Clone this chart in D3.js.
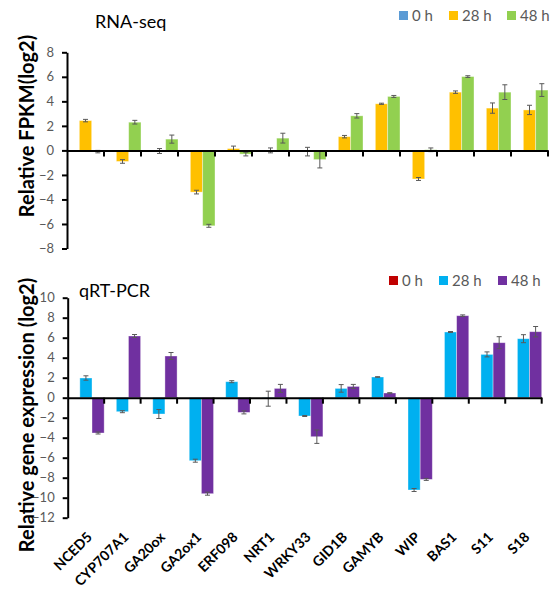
<!DOCTYPE html>
<html><head><meta charset="utf-8">
<script src="https://cdn.jsdelivr.net/npm/d3@7"></script>
<style>body{margin:0;background:#fff;} svg{display:block;font-family:Lato,"Open Sans",sans-serif;}</style>
</head><body>
<svg id="c" width="558" height="590"></svg>
<script>
const genes = ["NCED5","CYP707A1","GA20ox","GA2ox1","ERF098","NRT1","WRKY33","GID1B","GAMYB","WIP","BAS1","S11","S18"];
const seriesNames = ["0 h","28 h","48 h"];

// RNA-seq
const rna0h   = [0,0,0,0,0,0,0,0,0,0,0,0,0];
const rna28h  = [2.43,-0.9,-0.05,-3.4,0.15,0,-0.1,1.12,3.8,-2.33,4.75,3.45,3.3];
const rna48h  = [-0.1,2.3,0.92,-6.15,-0.3,1.0,-0.75,2.82,4.4,0.05,6.02,4.75,4.92];
const rna28hErr = [0.1,0.15,0.2,0.15,0.2,0.2,0.35,0.1,0.05,0.12,0.1,0.42,0.38];
const rna48hErr = [0.1,0.15,0.33,0.12,0.15,0.4,0.68,0.18,0.08,0.15,0.07,0.6,0.52];
const rnaTicks = [-8,-6,-4,-2,0,2,4,6,8];

// qRT-PCR
const qpcr0h  = [0,0,0,0,0,0,0,0,0,0,0,0,0];
const qpcr28h = [1.97,-1.4,-1.63,-6.3,1.6,-0.1,-1.83,0.93,2.07,-9.23,6.57,4.33,5.9];
const qpcr48h = [-3.53,6.17,4.17,-9.6,-1.47,0.93,-3.9,1.13,0.47,-8.17,8.2,5.5,6.6];
const qpcr28hErr = [0.22,0.1,0.45,0.15,0.1,0.75,0.05,0.38,0.03,0.15,0.05,0.25,0.4];
const qpcr48hErr = [0.1,0.15,0.35,0.15,0.15,0.4,0.67,0.2,0.03,0.1,0.08,0.6,0.52];
const qpcrTicks = [-12,-10,-8,-6,-4,-2,0,2,4,6,8,10];

const svg = d3.select("#c");
const gray = "#595959";

function panel(cfg){
  const g = svg.append("g");
  const x = d3.scaleBand().domain(genes).range(cfg.xr).paddingInner(0).paddingOuter(0);
  const xs = d3.scaleBand().domain(seriesNames).range([0, x.bandwidth()]).padding(0);
  const y = d3.scaleLinear().domain(cfg.domain).range(cfg.yr);
  const vals = [cfg.v0, cfg.v28, cfg.v48];
  const errs = [null, cfg.e28, cfg.e48];
  // bars
  seriesNames.forEach((s, si) => {
    const data = genes.map((gname, i) => ({g: gname, v: vals[si][i], e: errs[si] ? errs[si][i] : 0}));
    g.append("g").selectAll("rect").data(data).join("rect")
      .attr("x", d => x(d.g) + xs(s))
      .attr("width", xs.bandwidth())
      .attr("y", d => y(Math.max(0, d.v)))
      .attr("height", d => Math.abs(y(d.v) - y(0)))
      .attr("fill", cfg.colors[si])
      .attr("stroke", "rgba(255,255,255,0.45)")
      .attr("stroke-width", 0.8);
    if (errs[si]) {
      const eg = g.append("g").attr("stroke", gray).attr("stroke-width", 1).attr("fill","none");
      data.forEach(d => {
        const cx = x(d.g) + xs(s) + xs.bandwidth()/2;
        const y1 = y(d.v + d.e), y2 = y(d.v - d.e);
        eg.append("line").attr("x1", cx).attr("x2", cx).attr("y1", y1).attr("y2", y2);
        eg.append("line").attr("x1", cx-2.5).attr("x2", cx+2.5).attr("y1", y1).attr("y2", y1);
        eg.append("line").attr("x1", cx-2.5).attr("x2", cx+2.5).attr("y1", y2).attr("y2", y2);
      });
    }
  });
  // y axis
  const ya = g.append("g").attr("transform", `translate(${cfg.xr[0]},0)`)
    .call(d3.axisLeft(y).tickValues(cfg.ticks).tickSize(5).tickPadding(8).tickSizeOuter(0));
  ya.select(".domain").attr("stroke", "#000").attr("stroke-width", 2);
  ya.selectAll(".tick line").attr("stroke", "#000").attr("stroke-width", 2);
  ya.selectAll(".tick text").attr("fill", gray).attr("font-size", 13).attr("font-family", "Lato");
  // x axis at zero
  const xa = g.append("g").attr("transform", `translate(0,${y(0)})`)
    .call(d3.axisBottom(x).tickSize(0).tickFormat(""));
  xa.select(".domain").attr("stroke", "#000").attr("stroke-width", 2);
  xa.selectAll(".tick").remove();
  const bounds = genes.map(gn => x(gn) + x.bandwidth());
  g.append("g").selectAll("line").data(bounds).join("line")
    .attr("x1", d => d).attr("x2", d => d)
    .attr("y1", y(0)).attr("y2", y(0) + 6)
    .attr("stroke", "#000").attr("stroke-width", 2);
  // title
  g.append("text").attr("x", cfg.titlePos[0]).attr("y", cfg.titlePos[1])
    .attr("font-size", 18).attr("fill", "#000").text(cfg.title);
  // y label
  g.append("text").attr("transform", `translate(34,${cfg.ylabY}) rotate(-90)`)
    .attr("text-anchor", "middle").attr("font-weight", "bold").attr("font-size", 20)
    .attr("fill", "#000").text(cfg.ylab);
  // legend
  const lg = g.append("g");
  seriesNames.forEach((s, si) => {
    lg.append("rect").attr("x", cfg.legX[si]).attr("y", cfg.legY - 5).attr("width", 9).attr("height", 9)
      .attr("fill", cfg.colors[si]);
    lg.append("text").attr("x", cfg.legX[si] + 13).attr("y", cfg.legY).attr("dy", "0.35em")
      .attr("font-size", 15).attr("fill", gray).text(s);
  });
  return x;
}

panel({
  xr: [67, 548], yr: [248.5, 52.3], domain: [-8, 8], ticks: rnaTicks,
  v0: rna0h, v28: rna28h, v48: rna48h, e28: rna28hErr, e48: rna48hErr,
  colors: ["#5B9BD5", "#FFC000", "#92D050"],
  title: "RNA-seq", titlePos: [95, 28],
  ylab: "Relative FPKM(log2)", ylabY: 126,
  legX: [399, 449, 507], legY: 16
});

const xb = panel({
  xr: [67.7, 541.7], yr: [517.7, 297.7], domain: [-12, 10], ticks: qpcrTicks,
  v0: qpcr0h, v28: qpcr28h, v48: qpcr48h, e28: qpcr28hErr, e48: qpcr48hErr,
  colors: ["#C00000", "#00B0F0", "#7030A0"],
  title: "qRT-PCR", titlePos: [79, 297],
  ylab: "Relative gene expression (log2)", ylabY: 415,
  legX: [389, 439, 498], legY: 281
});

// category labels
svg.append("g").selectAll("text").data(genes).join("text")
  .attr("transform", d => `translate(${xb(d) + xb.bandwidth()/2 + 7},${538}) rotate(-45)`)
  .attr("text-anchor", "end").attr("font-weight", "bold").attr("font-size", 14)
  .attr("fill", "#000").text(d => d);
</script>
</body></html>
